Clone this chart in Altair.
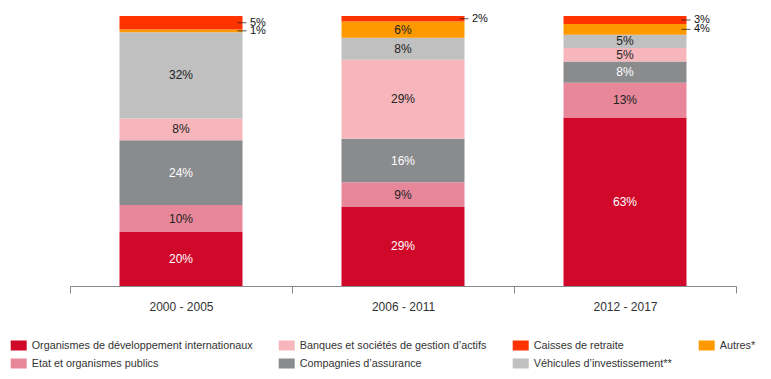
import altair as alt
import pandas as pd

periods = ["2000 - 2005", "2006 - 2011", "2012 - 2017"]

categories = [
    "Organismes de développement internationaux",
    "Etat et organismes publics",
    "Compagnies d’assurance",
    "Banques et sociétés de gestion d’actifs",
    "Véhicules d’investissement**",
    "Autres*",
    "Caisses de retraite",
]

org = [20, 29, 63]
etat = [10, 9, 13]
comp = [24, 16, 8]
banq = [8, 29, 5]
vehic = [32, 8, 5]
autres = [1, 6, 4]
caisses = [5, 2, 3]

series = [org, etat, comp, banq, vehic, autres, caisses]

colors = {
    "Organismes de développement internationaux": "#D0092B",
    "Etat et organismes publics": "#E8879A",
    "Compagnies d’assurance": "#8A8B8D",
    "Banques et sociétés de gestion d’actifs": "#F6B6BB",
    "Véhicules d’investissement**": "#C0C0C0",
    "Autres*": "#FF9900",
    "Caisses de retraite": "#FF3300",
}

# legend order (column-major, 2 rows x 4 columns)
legend_order = [
    "Organismes de développement internationaux",
    "Etat et organismes publics",
    "Banques et sociétés de gestion d’actifs",
    "Compagnies d’assurance",
    "Caisses de retraite",
    "Véhicules d’investissement**",
    "Autres*",
]

rows = []
for ci, (cat, vals) in enumerate(zip(categories, series)):
    for p, v in zip(periods, vals):
        rows.append({"period": p, "cat": cat, "value": v, "order": ci})
df = pd.DataFrame(rows)

FONT = "Liberation Sans"

x_scale = alt.Scale(paddingInner=0, paddingOuter=0)

x_enc = alt.X(
    "period:N",
    sort=periods,
    scale=x_scale,
    axis=alt.Axis(
        title=None,
        labelAngle=0,
        grid=False,
        tickBand="extent",
        domainColor="#888888",
        tickColor="#888888",
        tickSize=7,
        labelFontSize=12,
        labelColor="#333333",
        labelFont=FONT,
        labelPadding=8,
    ),
)

x_plain = alt.X("period:N", sort=periods, scale=x_scale)

y_scale = alt.Scale(domain=[0, 1])

base = (
    alt.Chart(df)
    .transform_stack(
        stack="value",
        as_=["v0", "v1"],
        groupby=["period"],
        offset="normalize",
        sort=[alt.SortField("order", order="ascending")],
    )
    .transform_calculate(
        mid="(datum.v0 + datum.v1) / 2",
        label="datum.value + '%'",
        outside="datum.cat == 'Caisses de retraite' || (datum.cat == 'Autres*' && datum.value < 5)",
        tcol="(datum.order == 0 || datum.order == 2) ? 'white' : '#222222'",
        autresv="datum.cat == 'Autres*' ? datum.value : 0",
    )
    .transform_joinaggregate(autresbar="sum(autresv)", groupby=["period"])
    .transform_calculate(
        shift="datum.autresbar < 5 ? (datum.cat == 'Caisses de retraite' ? -4.5 : (datum.cat == 'Autres*' ? 1 : 0)) : 0"
    )
)

bars = base.mark_bar(width=alt.RelativeBandSize(0.554)).encode(
    x=x_enc,
    y=alt.Y("v0:Q", scale=y_scale, axis=None),
    y2="v1:Q",
    color=alt.Color(
        "cat:N",
        scale=alt.Scale(domain=legend_order, range=[colors[c] for c in legend_order]),
        legend=alt.Legend(
            orient="none",
            legendX=-59.3,
            legendY=321.5,
            columns=4,
            title=None,
            symbolType="M-1,-0.625H1V0.625H-1Z",
            symbolSize=256,
            symbolStrokeWidth=0,
            labelFontSize=10.8,
            labelFont=FONT,
            labelColor="#333333",
            labelLimit=400,
            columnPadding=26,
            rowPadding=5,
            labelOffset=5,
            padding=0,
        ),
    ),
)

inside = base.transform_filter("!datum.outside").mark_text(
    fontSize=12, font=FONT, baseline="middle"
).encode(
    x=x_plain,
    y=alt.Y("mid:Q", scale=y_scale, axis=None),
    text="label:N",
    color=alt.Color("tcol:N", scale=None, legend=None),
)

outside_txt = base.transform_filter("datum.outside").mark_text(
    fontSize=11, font=FONT, baseline="middle", align="left", xOffset=69, color="#111111"
).encode(
    x=x_plain,
    y=alt.Y("mid:Q", scale=y_scale, axis=None),
    yOffset=alt.YOffset("shift:Q", scale=None),
    text="label:N",
)

leaders = base.transform_filter("datum.outside").mark_tick(
    size=9, thickness=1, xOffset=61, color="#111111"
).encode(
    x=x_plain,
    y=alt.Y("mid:Q", scale=y_scale, axis=None),
    yOffset=alt.YOffset("shift:Q", scale=None),
)

chart = (
    alt.layer(bars, inside, outside_txt, leaders)
    .properties(
        width=666,
        height=270,
        autosize=alt.AutoSizeParams(type="none"),
        padding={"left": 62, "top": 8, "right": 27, "bottom": 85},
    )
    .configure(font=FONT)
    .configure_view(stroke=None, strokeWidth=0)
    .configure_axis(grid=False)
)

chart.save("out.html", embed_options={"renderer": "svg", "actions": False})
